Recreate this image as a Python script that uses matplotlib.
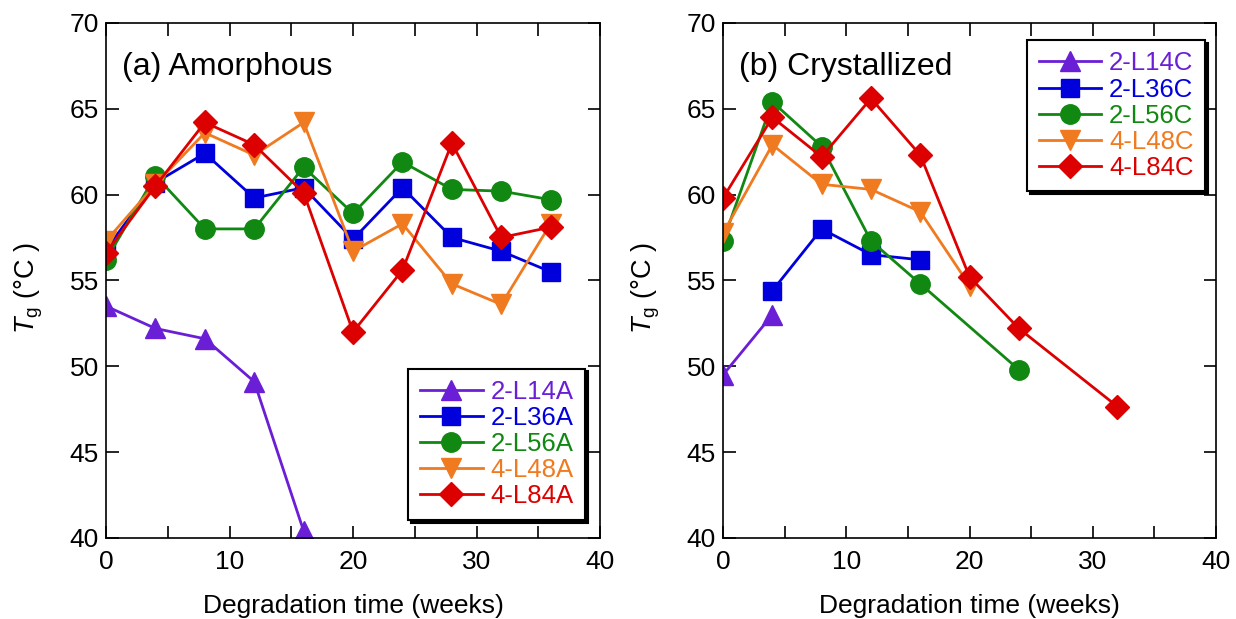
import numpy as np
import matplotlib
matplotlib.use('Agg')
import matplotlib.pyplot as plt
from matplotlib.ticker import MultipleLocator

plt.rcParams['font.family'] = ['Liberation Sans', 'DejaVu Sans']
plt.rcParams['mathtext.fontset'] = 'custom'
plt.rcParams['mathtext.rm'] = 'Liberation Sans'
plt.rcParams['mathtext.it'] = 'Liberation Sans:italic'

# (a) amorphous
weeks_a = [0, 4, 8, 12, 16, 20, 24, 28, 32, 36]
l14a_weeks = [0, 4, 8, 12, 16]
l14a = [53.5, 52.2, 51.6, 49.1, 40.4]
l36a = [56.8, 60.7, 62.4, 59.8, 60.4, 57.4, 60.4, 57.5, 56.7, 55.5]
l56a = [56.2, 61.1, 58.0, 58.0, 61.6, 58.9, 61.9, 60.3, 60.2, 59.7]
l48a = [57.3, 60.6, 63.6, 62.3, 64.2, 56.7, 58.3, 54.8, 53.6, 58.3]
l84a = [56.6, 60.5, 64.2, 62.9, 60.1, 52.0, 55.6, 63.0, 57.5, 58.1]

# (b) crystallized
l14c_weeks = [0, 4]
l14c = [49.5, 53.0]
l36c_weeks = [4, 8, 12, 16]
l36c = [54.4, 58.0, 56.5, 56.2]
l56c_weeks = [0, 4, 8, 12, 16, 24]
l56c = [57.3, 65.4, 62.8, 57.3, 54.8, 49.8]
l48c_weeks = [0, 4, 8, 12, 16, 20]
l48c = [57.75, 62.9, 60.6, 60.3, 59.0, 54.7]
l84c_weeks = [0, 4, 8, 12, 16, 20, 24, 32]
l84c = [59.8, 64.5, 62.2, 65.6, 62.3, 55.2, 52.2, 47.65]

colors = ['#6a1fd6', '#0000dd', '#118811', '#f07a20', '#dd0000']
markers = ['^', 's', 'o', 'v', 'D']
sizes = [14, 13, 14, 14, 12.5]

fig = plt.figure(figsize=(12.36, 6.19), dpi=100)
ax1 = fig.add_axes([0.0858, 0.131, 0.3997, 0.832])
ax2 = fig.add_axes([0.585, 0.131, 0.3989, 0.832])

series_a = [(l14a_weeks, l14a, '2-L14A'), (weeks_a, l36a, '2-L36A'),
            (weeks_a, l56a, '2-L56A'), (weeks_a, l48a, '4-L48A'),
            (weeks_a, l84a, '4-L84A')]
series_c = [(l14c_weeks, l14c, '2-L14C'), (l36c_weeks, l36c, '2-L36C'),
            (l56c_weeks, l56c, '2-L56C'), (l48c_weeks, l48c, '4-L48C'),
            (l84c_weeks, l84c, '4-L84C')]

leg_anchor = {'lower right': (0.970, 0.035), 'upper right': (0.978, 0.967)}


def draw(ax, series, title, legend_loc):
    for (x, y, name), c, m, s in zip(series, colors, markers, sizes):
        ax.plot(x, y, color=c, marker=m, markersize=s, linewidth=2, label=name)
    ax.set_xlim(0, 40)
    ax.set_ylim(40, 70)
    ax.xaxis.set_major_locator(MultipleLocator(10))
    ax.xaxis.set_minor_locator(MultipleLocator(5))
    ax.yaxis.set_major_locator(MultipleLocator(5))
    ax.tick_params(which='both', direction='in', top=True, right=True,
                   length=9, width=1.2, labelsize=19, pad=5)
    ax.tick_params(axis='x', pad=9)
    for sp in ax.spines.values():
        sp.set_linewidth(1.2)
    ax.set_xlabel('Degradation time (weeks)', fontsize=19, labelpad=14)
    ax.set_ylabel(r'$\mathit{T}_{\mathrm{g}}$ (°C )', fontsize=19.5, labelpad=18, y=0.485)
    ax.text(0.032, 0.915, title, transform=ax.transAxes, fontsize=23, va='center')
    leg = ax.legend(loc=legend_loc, fontsize=18.5, frameon=True, fancybox=False,
                    shadow={'color': 'black', 'alpha': 1.0}, edgecolor='black',
                    handlelength=2.45, handletextpad=0.3, labelspacing=0.08,
                    borderpad=0.45, borderaxespad=0, framealpha=1,
                    bbox_to_anchor=leg_anchor[legend_loc])
    leg.get_frame().set_linewidth(1.5)
    for t, c in zip(leg.get_texts(), colors):
        t.set_color(c)


draw(ax1, series_a, '(a) Amorphous', 'lower right')
draw(ax2, series_c, '(b) Crystallized', 'upper right')

fig.savefig('out.png', dpi=100)
